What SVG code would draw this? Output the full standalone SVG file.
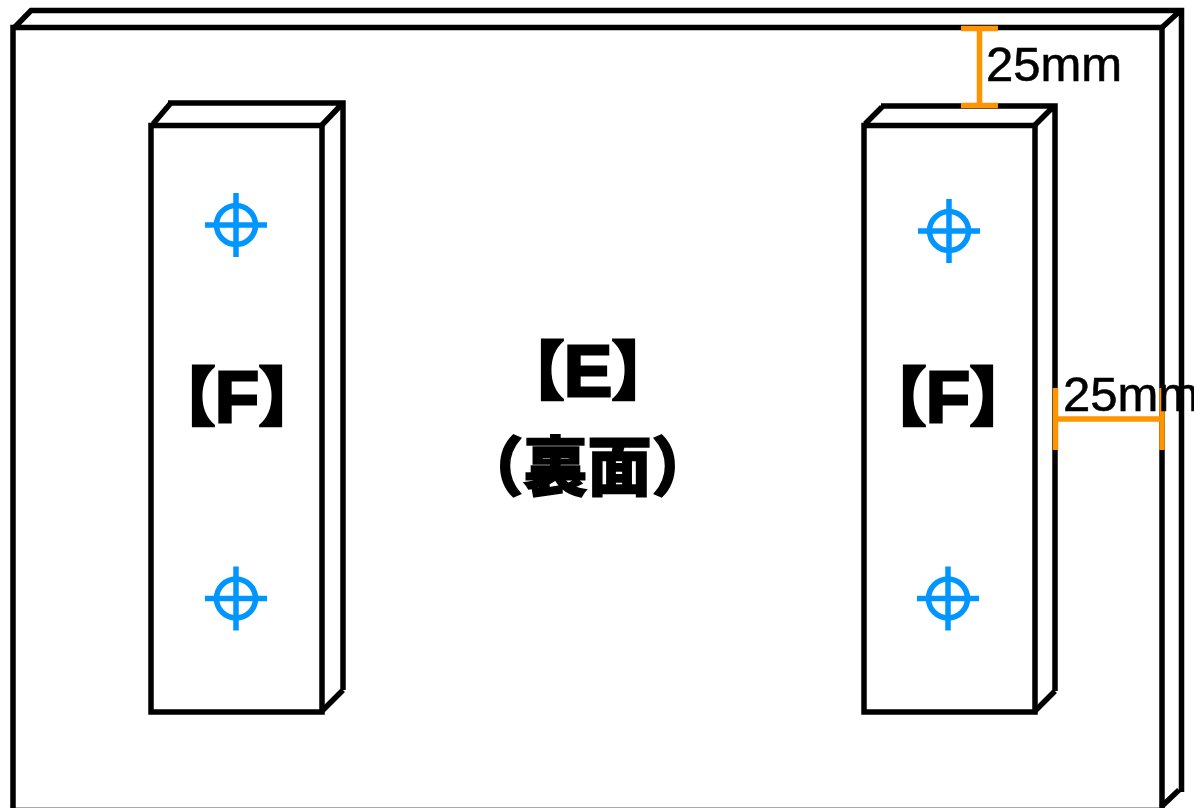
<svg xmlns="http://www.w3.org/2000/svg" width="1194" height="808" viewBox="0 0 1194 808">
<style>
.k{fill:none;stroke:#000;stroke-width:5.500}
.o{fill:none;stroke:#ff9300;stroke-width:5.500}
.b{fill:none;stroke:#0096ff;stroke-width:5.500}
.d{font-family:"Liberation Sans",Arial,sans-serif;font-size:49px;fill:#000;stroke:#000;stroke-width:.6}
.j{font-family:"Noto Sans CJK JP","Noto Sans CJK SC",sans-serif;font-weight:900;font-size:63px;fill:#000;text-anchor:middle;stroke:#000;stroke-width:3}
.l{font-family:"Liberation Sans",Arial,sans-serif;font-weight:700;font-size:72px;stroke-width:3}
.s{font-size:64px;stroke-width:1.500}
</style>
<defs>
<g id="target"><circle r="19.5" class="b"/><path class="b" d="M-31 0H31M0 -32V32"/></g>
</defs>
<rect width="1194" height="808" fill="#fff"/>
<g id="panel-E">
<path d="M13 807.500H1160" fill="none" stroke="#aaa" stroke-width="1"/>
<path class="k" d="M13 810V27.500H1162V810"/>
<path class="k" d="M14 28L31 10.500H1181.500V792M1162 27.500L1181 10M1161 807L1179 790"/>
<text class="j" x="588" y="393">【<tspan class="l" dy="3">E</tspan><tspan dy="-3">】</tspan></text>
<text class="j s" x="587.500" y="490">（裏面）</text>
</g>
<g id="block-F-left">
<path class="k" d="M151 125.500H322V712H151Z"/>
<path class="k" d="M153 124L170 104M168 103H343V690M322 125L342 104M322 711L343 690"/>
<use href="#target" x="236" y="225"/>
<use href="#target" x="236" y="598.500"/>
<text class="j" x="237" y="419">【<tspan class="l" dy="3">F</tspan><tspan dy="-3">】</tspan></text>
</g>
<g id="block-F-right">
<path class="k" d="M864 125.500H1035V712H864Z"/>
<path class="k" d="M865 124L882 107M881 106H1055V691M1035 125L1054 106M1035 711L1055 691"/>
<use href="#target" x="949" y="231"/>
<use href="#target" x="948" y="598.500"/>
<text class="j" x="948" y="419">【<tspan class="l" dy="3">F</tspan><tspan dy="-3">】</tspan></text>
</g>
<g id="connectors">
<path class="o" d="M961 28.500H998M979.500 28.500V105M961 105.500H998"/>
<path class="o" d="M1055.500 388V450M1055.500 419H1162M1162 388V450"/>
</g>
<g id="labels">
<text class="d" x="986" y="81">25mm</text>
<text class="d" x="1063" y="411">25mm</text>
</g>
</svg>
